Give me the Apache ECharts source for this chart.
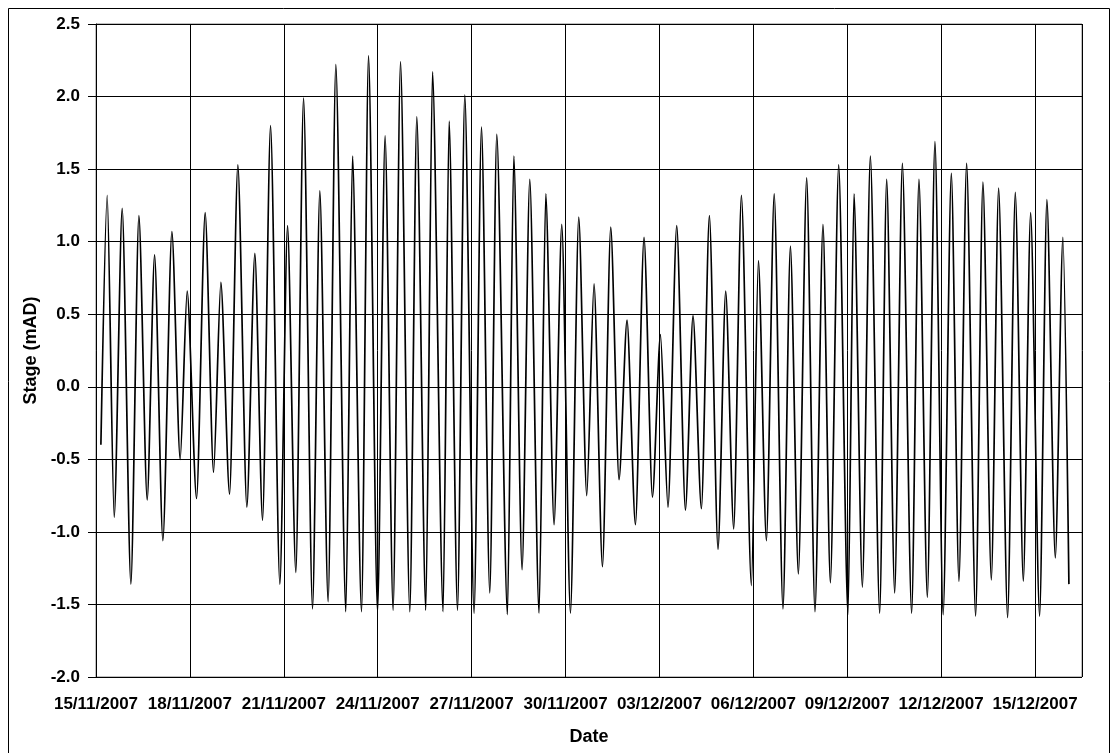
<!DOCTYPE html>
<html>
<head>
<meta charset="utf-8">
<script src="https://cdn.jsdelivr.net/npm/echarts@6/dist/echarts.min.js"></script>
<style>
html,body{margin:0;padding:0;background:#fff;}
#chart{width:1118px;height:753px;}
</style>
</head>
<body>
<div id="chart"></div>
<script>
// Tidal stage readings: turning points (highs and lows)
const times = [
'2007-11-15 03:45','2007-11-15 08:35','2007-11-15 13:57','2007-11-15 20:05',
'2007-11-16 02:45','2007-11-16 08:53','2007-11-16 15:15','2007-11-16 20:55',
'2007-11-17 03:17','2007-11-17 10:11','2007-11-17 16:32','2007-11-17 21:54',
'2007-11-18 05:07','2007-11-18 11:42','2007-11-18 18:08','2007-11-18 23:44',
'2007-11-19 06:24','2007-11-19 12:46','2007-11-19 19:40','2007-11-20 01:48',
'2007-11-20 07:42','2007-11-20 13:50','2007-11-20 20:58','2007-11-21 02:52',
'2007-11-21 09:13','2007-11-21 15:08','2007-11-21 22:01','2007-11-22 03:37',
'2007-11-22 09:59','2007-11-22 15:53','2007-11-22 23:33','2007-11-23 04:41',
'2007-11-23 11:35','2007-11-23 16:57','2007-11-23 23:51','2007-11-24 05:40',
'2007-11-24 11:48','2007-11-24 17:29','2007-11-25 00:36','2007-11-25 05:58',
'2007-11-25 12:52','2007-11-25 18:00','2007-11-26 02:08','2007-11-26 06:44',
'2007-11-26 13:10','2007-11-26 18:46','2007-11-27 01:53','2007-11-27 07:34',
'2007-11-27 13:55','2007-11-27 19:17','2007-11-28 03:29','2007-11-28 08:19',
'2007-11-28 14:41','2007-11-28 20:35','2007-11-29 03:43','2007-11-29 08:51',
'2007-11-29 15:13','2007-11-29 21:07','2007-11-30 03:47','2007-11-30 10:08',
'2007-11-30 16:16','2007-11-30 21:52','2007-12-01 04:19','2007-12-01 10:40',
'2007-12-01 17:02','2007-12-01 23:10','2007-12-02 05:36','2007-12-02 12:12',
'2007-12-02 18:38','2007-12-03 00:46','2007-12-03 06:35','2007-12-03 13:16',
'2007-12-03 19:56','2007-12-04 01:45','2007-12-04 08:11','2007-12-04 14:19',
'2007-12-04 20:55','2007-12-05 02:49','2007-12-05 08:57','2007-12-05 14:51',
'2007-12-05 22:31','2007-12-06 03:53','2007-12-06 10:01','2007-12-06 16:00',
'2007-12-06 22:44','2007-12-07 04:25','2007-12-07 10:32','2007-12-07 16:54',
'2007-12-07 23:16','2007-12-08 05:24','2007-12-08 11:04','2007-12-08 17:26',
'2007-12-09 00:34','2007-12-09 05:10','2007-12-09 11:36','2007-12-09 17:44',
'2007-12-10 00:52','2007-12-10 06:14','2007-12-10 12:22','2007-12-10 18:16',
'2007-12-11 01:23','2007-12-11 06:59','2007-12-11 13:25','2007-12-11 19:15',
'2007-12-12 01:32','2007-12-12 07:49','2007-12-12 13:38','2007-12-12 19:32',
'2007-12-13 02:26','2007-12-13 08:02','2007-12-13 14:29','2007-12-13 20:04',
'2007-12-14 02:58','2007-12-14 08:52','2007-12-14 15:00','2007-12-14 20:36',
'2007-12-15 03:30','2007-12-15 09:05','2007-12-15 15:32','2007-12-15 21:22',
'2007-12-16 01:58'
];
const stage = [
-0.40, 1.32,-0.90, 1.23,
-1.36, 1.18,-0.78, 0.91,
-1.06, 1.07,-0.50, 0.66,
-0.77, 1.20,-0.59, 0.72,
-0.74, 1.53,-0.83, 0.92,
-0.92, 1.80,-1.36, 1.11,
-1.28, 1.99,-1.53, 1.35,
-1.48, 2.22,-1.55, 1.59,
-1.55, 2.28,-1.55, 1.73,
-1.54, 2.24,-1.55, 1.86,
-1.54, 2.17,-1.55, 1.83,
-1.54, 2.01,-1.56, 1.79,
-1.42, 1.74,-1.57, 1.59,
-1.26, 1.43,-1.56, 1.33,
-0.95, 1.12,-1.56, 1.17,
-0.75, 0.71,-1.24, 1.10,
-0.64, 0.46,-0.95, 1.03,
-0.76, 0.36,-0.83, 1.11,
-0.85, 0.49,-0.84, 1.18,
-1.12, 0.66,-0.98, 1.32,
-1.37, 0.87,-1.06, 1.33,
-1.53, 0.97,-1.29, 1.44,
-1.55, 1.12,-1.35, 1.53,
-1.57, 1.33,-1.38, 1.59,
-1.56, 1.43,-1.42, 1.54,
-1.56, 1.43,-1.45, 1.69,
-1.57, 1.47,-1.34, 1.54,
-1.58, 1.41,-1.33, 1.37,
-1.59, 1.34,-1.34, 1.20,
-1.58, 1.29,-1.18, 1.03,
-1.36
];
const axisStart = '2007-11-15 00:00';
const axisEnd   = '2007-12-16 12:00';
const tickStepDays = 3;
const yMin = -2.0, yMax = 2.5, yStep = 0.5;
const xTitle = 'Date';
const yTitle = 'Stage (mAD)';

const DAY = 86400000;
function toMs(t){ return Date.parse(t.replace(' ', 'T') + ':00Z'); }
const t0 = toMs(axisStart);
function toDays(t){ return (toMs(t) - t0) / DAY; }
function pad(n){ return (n < 10 ? '0' : '') + n; }
function fmtDate(d){
  const dt = new Date(t0 + Math.round(d * DAY));
  return pad(dt.getUTCDate()) + '/' + pad(dt.getUTCMonth() + 1) + '/' + dt.getUTCFullYear();
}

const seriesData = times.map((t, i) => [toDays(t), stage[i]]);
const FONT = '"Liberation Sans", Arial, sans-serif';

const chart = echarts.init(document.getElementById('chart'), null, {renderer: 'canvas'});
chart.setOption({
  animation: false,
  backgroundColor: '#fff',
  graphic: [{
    type: 'rect', z: 100, silent: true,
    shape: {x: 8.5, y: 8.5, width: 1101, height: 760},
    style: {fill: null, stroke: '#000', lineWidth: 1}
  }],
  grid: {
    left: 96, top: 24, width: 986, height: 653,
    show: true, borderColor: '#808080', borderWidth: 1, backgroundColor: '#fff'
  },
  xAxis: {
    type: 'value',
    min: 0, max: toDays(axisEnd), interval: tickStepDays,
    name: xTitle, nameLocation: 'middle', nameGap: 51,
    nameTextStyle: {fontFamily: FONT, fontWeight: 'bold', fontSize: 18, color: '#000'},
    axisLine: {show: true, lineStyle: {color: '#000', width: 1}},
    axisTick: {show: true, inside: false, length: 6, lineStyle: {color: '#000'}},
    axisLabel: {
      show: true, margin: 19, showMaxLabel: false,
      fontFamily: FONT, fontWeight: 'bold', fontSize: 17, color: '#000',
      formatter: v => fmtDate(v)
    },
    splitLine: {show: true, lineStyle: {color: '#000', width: 1}}
  },
  yAxis: {
    type: 'value',
    min: yMin, max: yMax, interval: yStep,
    name: yTitle, nameLocation: 'middle', nameGap: 53, nameRotate: 90,
    nameTextStyle: {fontFamily: FONT, fontWeight: 'bold', fontSize: 18, color: '#000'},
    axisLine: {show: true, lineStyle: {color: '#000', width: 1}},
    axisTick: {show: true, inside: false, length: 8, lineStyle: {color: '#000'}},
    axisLabel: {
      margin: 16, fontFamily: FONT, fontWeight: 'bold', fontSize: 17, color: '#000',
      formatter: v => v.toFixed(1)
    },
    splitLine: {show: true, lineStyle: {color: '#000', width: 1}}
  },
  series: [{
    type: 'line',
    data: seriesData,
    showSymbol: false,
    symbol: 'none',
    lineStyle: {color: '#000', width: 1.7},
    smooth: 0.25,
    smoothMonotone: 'x'
  }]
});
</script>
</body>
</html>
